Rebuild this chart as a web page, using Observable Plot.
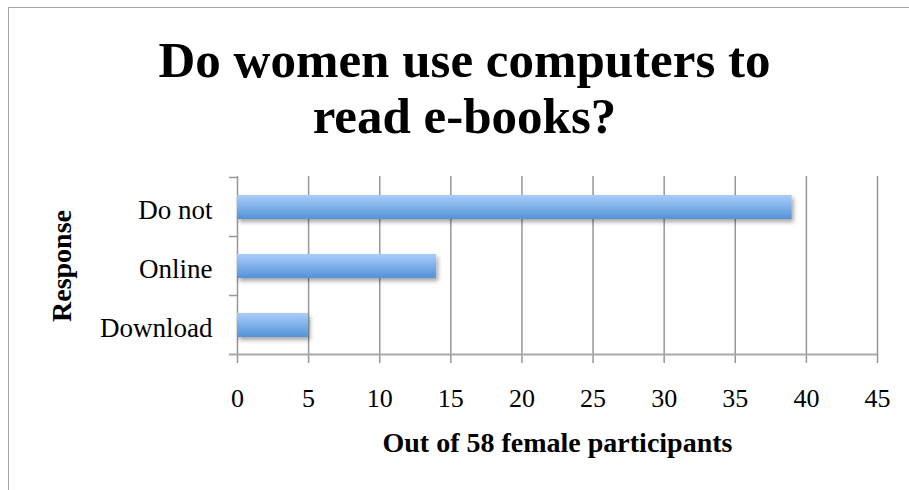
<!DOCTYPE html>
<html><head><meta charset="utf-8">
<script src="https://cdn.jsdelivr.net/npm/d3@7"></script>
<script src="https://cdn.jsdelivr.net/npm/@observablehq/plot@0.6"></script>
<style>
html,body{margin:0;padding:0;background:#fff;overflow:hidden;}
#wrap{position:relative;width:909px;height:490px;overflow:hidden;font-family:"Liberation Serif",serif;}
#frame{position:absolute;left:8px;top:7px;width:1000px;height:1000px;border:1.5px solid #a6a6a6;}
#title{position:relative;height:165px;box-sizing:border-box;padding-top:32px;padding-left:20px;text-align:center;font-weight:bold;font-size:51px;line-height:56px;margin:0;color:#000;}
#chart{position:relative;height:325px;}
</style></head><body>
<div id="wrap"><div id="frame"></div><div id="title"></div><div id="chart"></div></div>
<script>
const categories = ["Do not", "Online", "Download"];
const values = [39, 14, 5];
const xTicks = [0, 5, 10, 15, 20, 25, 30, 35, 40, 45];
const titleLines = ["Do women use computers to", "read e-books?"];
const xLabel = "Out of 58 female participants";
const yLabel = "Response";

const data = categories.map((c, i) => ({category: c, value: values[i]}));

document.getElementById("title").innerHTML = titleLines.join("<br>");

const gridColor = "#979797";

const plot = Plot.plot({
  width: 909,
  height: 325,
  marginTop: 11,
  marginBottom: 135,
  marginLeft: 237,
  marginRight: 32,
  style: {fontFamily: "'Liberation Serif', serif", fontSize: "26px", color: "#000", background: "transparent", overflow: "visible"},
  x: {domain: [0, 45], ticks: xTicks},
  y: {domain: categories, paddingInner: 0.6, paddingOuter: 0.3},
  marks: [
    Plot.ruleX(xTicks, {stroke: gridColor, strokeWidth: 1.5}),
    Plot.axisX(xTicks, {tickSize: 8, tickPadding: 25, stroke: gridColor, strokeWidth: 1.5, fill: "#000", fontSize: 26, label: null, tickFormat: d => String(d)}),
    Plot.axisY({tickSize: 0, tickPadding: 25, fill: "#000", fontSize: 27, label: null, dy: 3}),
    Plot.barX(data, {x: "value", y: "category", fill: "url(#barGrad)"}),
    Plot.text([xLabel], {frameAnchor: "bottom", dy: 96, fontWeight: "bold", fontSize: 28, fill: "#000"}),
    Plot.text([yLabel], {frameAnchor: "left", textAnchor: "middle", dx: -175, rotate: -90, fontWeight: "bold", fontSize: 28, fill: "#000"})
  ]
});

const svg = d3.select(plot);
const defs = svg.insert("defs", ":first-child");
const g = defs.append("linearGradient").attr("id", "barGrad").attr("x1", 0).attr("y1", 0).attr("x2", 0).attr("y2", 1);
g.append("stop").attr("offset", "0%").attr("stop-color", "#aacdfa");
g.append("stop").attr("offset", "100%").attr("stop-color", "#5393d8");
const f = defs.append("filter").attr("id", "shadow").attr("x", "-10%").attr("y", "-30%").attr("width", "130%").attr("height", "180%");
f.append("feDropShadow").attr("dx", 2).attr("dy", 3).attr("stdDeviation", 2.2).attr("flood-color", "#000").attr("flood-opacity", 0.35);
svg.selectAll("g[aria-label='bar']").attr("filter", "url(#shadow)");

// category-axis ticks between bands, and the bottom axis line, from the scales
const ys = plot.scale("y");
const xs = plot.scale("x");
const gap = (ys.step - ys.bandwidth) / 2;
const bounds = categories.map(c => ys.apply(c) - gap);
bounds.push(ys.apply(categories[categories.length - 1]) + ys.bandwidth + gap);
const x0 = xs.apply(0), x1 = xs.apply(45);
const axG = svg.append("g").attr("stroke", gridColor).attr("stroke-width", 1.5);
bounds.forEach((b, i) => {
  axG.append("line").attr("x1", x0 - 8).attr("x2", i === bounds.length - 1 ? x1 : x0).attr("y1", b).attr("y2", b)
    .attr("stroke", i === bounds.length - 1 ? "#a9a9a9" : gridColor).attr("stroke-width", i === bounds.length - 1 ? 2 : 1.5);
});
// bring bars above axis lines
svg.selectAll("g[aria-label='bar']").raise();

document.getElementById("chart").appendChild(plot);
</script>
</body></html>
